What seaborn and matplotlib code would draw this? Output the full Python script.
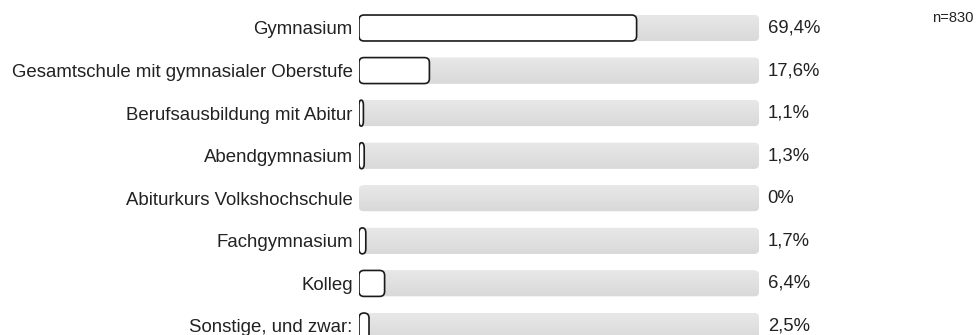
import numpy as np
import pandas as pd
import matplotlib
matplotlib.use("Agg")
import matplotlib.pyplot as plt
import seaborn as sns
from matplotlib.patches import FancyBboxPatch

categories = ["Gymnasium", "Gesamtschule mit gymnasialer Oberstufe",
              "Berufsausbildung mit Abitur", "Abendgymnasium",
              "Abiturkurs Volkshochschule", "Fachgymnasium", "Kolleg",
              "Sonstige, und zwar:"]
values = [69.4, 17.6, 1.1, 1.3, 0.0, 1.7, 6.4, 2.5]
value_labels = ["69,4%", "17,6%", "1,1%", "1,3%", "0%", "1,7%", "6,4%", "2,5%"]
n_label = "n=830"

sns.set_theme(style="white")
plt.rcParams["font.family"] = ["Liberation Sans", "DejaVu Sans"]

W, H = 979, 335
fig = plt.figure(figsize=(W / 100, H / 100), dpi=100)
fig.patch.set_facecolor("white")
x0, xw = 359, 400
row0, step = 28, (326 - 28) / 7
ax = fig.add_axes([x0 / W, 0, xw / W, 1])
ax.set_facecolor("none")

df = pd.DataFrame({"cat": categories, "val": values, "full": [100] * len(values)})
sns.barplot(data=df, y="cat", x="full", color="#e0e0e0", width=0.61, ax=ax,
            orient="h", saturation=1)
sns.barplot(data=df, y="cat", x="val", color="white", width=0.61, ax=ax,
            orient="h", saturation=1)

ax.set_xlim(0, 100)
ax.set_ylim((H - row0) / step, -row0 / step)

px_x = 100 / xw          # data units per px in x
px_y = 1 / step          # data units per px in y

patches = list(ax.patches)
nb = len(categories)
for k, p in enumerate(patches):
    x, y, w, h = p.get_x(), p.get_y(), p.get_width(), p.get_height()
    p.remove()
    is_track = k < nb
    if w <= 0:
        continue
    r_px = 5
    dr = min(r_px * px_x, w / 2)
    aspect = (r_px * px_y) / dr
    fb = FancyBboxPatch((x, y), w, h,
                        boxstyle=f"round,pad=0,rounding_size={dr}",
                        mutation_aspect=aspect,
                        facecolor="#e0e0e0" if is_track else "white",
                        edgecolor="none" if is_track else "#1a1a1a",
                        linewidth=0 if is_track else 1.2,
                        zorder=1 if is_track else 3)
    ax.add_patch(fb)
    if is_track:
        grad = np.linspace(0, 1, 50).reshape(-1, 1)
        im = ax.imshow(grad, extent=(x, x + w, y + h, y), aspect="auto",
                       cmap=matplotlib.colors.LinearSegmentedColormap.from_list(
                           "g", ["#e8e8e8", "#d9d9d9"]), zorder=2,
                       interpolation="bilinear")
        im.set_clip_path(fb)

ax.set_xlim(0, 100)
ax.set_ylim((H - row0) / step, -row0 / step)
ax.set_xlabel("")
ax.set_ylabel("")
ax.set_xticks([])
ax.tick_params(axis="y", length=0, pad=4.5, labelsize=13.4, labelcolor="#222222")
for s in ax.spines.values():
    s.set_visible(False)

for i, lab in enumerate(value_labels):
    ax.annotate(lab, xy=(100, i), xytext=(6.3, 0), textcoords="offset points",
                ha="left", va="center", fontsize=13.3, color="#222222")

fig.text(932 / W, 1 - 18 / H, n_label, ha="left", va="center", fontsize=10.6,
         color="#222222")

fig.savefig("out.png", dpi=100)
